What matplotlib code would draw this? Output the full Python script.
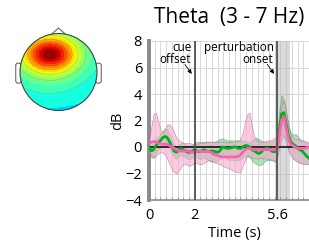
import numpy as np
import matplotlib.pyplot as plt
from matplotlib.patches import Circle, Polygon, FancyBboxPatch

plt.rcParams['font.family'] = ['Open Sans', 'DejaVu Sans']

# time axis (s), one sample every 0.1 s
time = np.round(np.arange(0, 7.01, 0.1), 1)

green_mean = [0.0, -0.3, -0.2, 0.1, 0.3, 0.5, 0.7, 0.8, 0.7, 0.4,
              0.0, -0.3, -0.4, -0.2, -0.1, -0.2, -0.3, -0.4, -0.4, -0.3,
              -0.2, -0.3, -0.35, -0.3, -0.2, -0.3, -0.35, -0.3, -0.3, -0.35,
              -0.4, -0.3, 0.0, -0.05, -0.1, -0.1, -0.05, 0.0, 0.0, -0.1,
              -0.1, 0.0, 0.1, 0.1, 0.0, -0.2, -0.3, -0.4, -0.5, -0.4,
              -0.2, -0.1, -0.1, -0.2, -0.35, -0.35, -0.1, 1.2, 2.5, 2.6,
              1.7, 0.9, 0.4, 0.2, 0.1, -0.1, -0.2, -0.3, -0.5, -0.7, -0.85]
green_lo = [-0.4, -0.8, -0.8, -0.5, -0.2, 0.0, 0.2, 0.3, 0.2, -0.1,
            -0.5, -0.8, -0.9, -0.7, -0.6, -0.7, -0.8, -0.9, -0.9, -0.8,
            -0.7, -0.8, -0.9, -0.9, -0.8, -0.9, -1.0, -1.1, -1.1, -1.1,
            -1.0, -0.9, -0.75, -0.8, -0.9, -1.0, -1.0, -1.0, -1.0, -1.0,
            -0.9, -0.8, -0.7, -0.7, -0.8, -1.0, -1.2, -1.3, -1.35, -1.35,
            -1.2, -1.0, -1.0, -1.0, -1.0, -1.1, -0.8, 0.3, 1.0, 0.9,
            0.6, -0.1, -0.5, -0.8, -1.0, -1.1, -1.2, -1.25, -1.25, -1.25, -1.3]
green_hi = [0.3, 0.1, 0.3, 0.6, 0.8, 1.0, 1.2, 1.4, 1.3, 1.0,
            0.5, 0.2, 0.0, 0.2, 0.3, 0.3, 0.2, 0.1, 0.1, 0.2,
            0.3, 0.4, 0.4, 0.4, 0.4, 0.4, 0.4, 0.4, 0.4, 0.4,
            0.5, 0.6, 0.65, 0.6, 0.5, 0.5, 0.5, 0.5, 0.5, 0.5,
            0.5, 0.5, 0.45, 0.4, 0.4, 0.5, 0.6, 0.7, 0.6, 0.5,
            0.4, 0.4, 0.4, 0.4, 0.45, 0.5, 0.7, 2.8, 3.9, 3.5,
            2.6, 1.7, 1.1, 0.9, 1.0, 0.8, 0.6, 0.5, 0.4, 0.3, 0.3]
pink_mean = [0.3, 0.35, 0.4, 0.4, 0.3, 0.25, 0.2, 0.2, 0.2, 0.1,
             0.0, -0.1, -0.2, -0.3, -0.3, -0.3, -0.3, -0.3, -0.35, -0.4,
             -0.4, -0.35, -0.3, -0.3, -0.35, -0.35, -0.35, -0.4, -0.5, -0.6,
             -0.65, -0.7, -0.75, -0.75, -0.75, -0.75, -0.75, -0.75, -0.75, -0.7,
             -0.6, -0.4, -0.2, -0.1, -0.1, -0.15, -0.2, -0.2, -0.2, -0.2,
             -0.2, -0.2, -0.2, -0.2, -0.2, -0.2, -0.1, 0.9, 2.0, 2.3,
             1.4, 0.6, 0.2, 0.1, -0.05, -0.1, -0.1, -0.1, -0.1, -0.05, 0.0]
pink_lo = [-0.4, -0.6, -0.8, -0.7, -0.5, -0.4, -0.4, -0.6, -0.9, -1.3,
           -1.7, -1.9, -2.0, -1.8, -1.5, -1.3, -1.3, -1.4, -1.4, -1.3,
           -1.2, -1.2, -1.3, -1.3, -1.2, -1.1, -1.0, -1.0, -1.1, -1.2,
           -1.25, -1.3, -1.4, -1.5, -1.55, -1.6, -1.7, -1.8, -1.9, -1.9,
           -1.9, -1.4, -1.0, -0.6, -0.7, -0.8, -0.85, -0.85, -0.85, -0.85,
           -0.85, -0.85, -0.9, -0.9, -1.0, -1.1, -0.9, 0.0, 0.7, 0.8,
           0.4, -0.3, -0.7, -0.9, -1.0, -1.1, -1.2, -1.25, -1.3, -1.3, -1.3]
pink_hi = [0.6, 1.5, 2.5, 2.6, 2.0, 1.3, 1.1, 1.4, 1.7, 1.7,
           1.5, 1.1, 0.7, 0.5, 0.4, 0.3, 0.3, 0.3, 0.3, 0.2,
           0.2, 0.2, 0.3, 0.3, 0.3, 0.35, 0.4, 0.4, 0.4, 0.4,
           0.4, 0.4, 0.4, 0.4, 0.35, 0.35, 0.4, 0.4, 0.4, 0.45,
           0.6, 1.1, 1.9, 2.5, 2.6, 1.6, 0.8, 0.5, 0.4, 0.4,
           0.4, 0.45, 0.5, 0.5, 0.6, 0.7, 0.8, 2.0, 3.2, 3.5,
           2.6, 1.5, 0.9, 0.7, 0.6, 0.6, 0.5, 0.5, 0.45, 0.4, 0.4]

x_ticks = [0, 2, 5.6]
y_ticks = [-4, -2, 0, 2, 4, 6, 8]
events = [2.0, 5.6]
event_labels = ['cue\noffset', 'perturbation\nonset']
window = (5.6, 6.15)

# topography: baseline plus frontal hot spot (x, y, amplitude, sigma x, sigma y)
topo_base = 0.355
spot_x = [-0.22, -0.25]
spot_y = [0.47, 0.2]
spot_amp = [0.5, 0.13]
spot_sx = [0.48, 0.75]
spot_sy = [0.32, 0.6]

fig = plt.figure(figsize=(3.09, 2.41), dpi=100)

# ---- time course ----
ax = fig.add_axes([149 / 309, 1 - 200 / 241, 171.5 / 309, 159 / 241])
ax.set_xlim(0, 7.5)
ax.set_ylim(-4, 8)

for v in np.arange(0.25, 7.5, 0.25):
    ax.axvline(v, color='#d8d8d8', lw=0.7, zorder=0)
for h in y_ticks:
    ax.axhline(h, color='#d8d8d8', lw=0.7, zorder=0)

ax.axvspan(*window, color='#b0b0b0', alpha=0.45, lw=0, zorder=1)

ax.fill_between(time, green_lo, green_hi, facecolor='#5fd37f', alpha=0.55,
                edgecolor='#4a8a5a', lw=0.5, zorder=2)
ax.fill_between(time, pink_lo, pink_hi, facecolor='#f7a8cf', alpha=0.6,
                edgecolor='#a07088', lw=0.5, zorder=3)
ax.axhline(0, color='black', lw=1.1, zorder=4)
ax.plot(time, green_mean, color='#00b020', lw=2.0, zorder=5)
ax.plot(time, pink_mean, color='#ff5fb0', lw=2.0, zorder=6)

for ev in events:
    ax.axvline(ev, color='#505050', lw=1.3, zorder=7)

for ev, lab in zip(events, event_labels):
    ax.text(ev - 0.15, 8.0, lab, ha='right', va='top', fontsize=8.5,
            multialignment='right', linespacing=0.9, zorder=8)
    ax.annotate('', xy=(ev - 0.06, 5.35), xytext=(ev - 0.5, 6.4),
                arrowprops=dict(arrowstyle='-|>', lw=0.6, color='black',
                                mutation_scale=6), zorder=8)

ax.set_xticks(x_ticks)
ax.set_xticklabels(['0', '2', '5.6'])
ax.set_yticks(y_ticks)
ax.set_xticks(np.arange(0.25, 7.5, 0.25), minor=True)
ax.tick_params(axis='both', which='major', length=0, labelsize=10.5)
ax.tick_params(axis='y', pad=5)
ax.tick_params(axis='x', pad=6)
ax.tick_params(axis='x', which='minor', direction='in', length=2, color='#888888')
ax.set_xlabel('Time (s)', fontsize=10.5, labelpad=2)
ax.set_ylabel('dB', fontsize=10.5, labelpad=0)

for side in ['top', 'right']:
    ax.spines[side].set_visible(False)
ax.spines['left'].set_color('#8a8a8a')
ax.spines['left'].set_linewidth(2.8)
ax.spines['bottom'].set_color('#8a8a8a')
ax.spines['bottom'].set_linewidth(1.2)

fig.text(229 / 309, 1 - 18 / 241, 'Theta  (3 - 7 Hz)', ha='center',
         va='center', fontsize=15)

# ---- scalp map ----
tp = fig.add_axes([0, 1 - 125 / 241, 115 / 309, 105 / 241])
tp.set_xlim(-58.5 / 38.5, 56.5 / 38.5)
tp.set_ylim(-53 / 38.5, 52 / 38.5)
tp.axis('off')

gx, gy = np.meshgrid(np.linspace(-1.05, 1.05, 200), np.linspace(-1.05, 1.05, 200))
field = topo_base + 0.03 * gy
for sx, sy, sa, wx, wy in zip(spot_x, spot_y, spot_amp, spot_sx, spot_sy):
    field = field + sa * np.exp(-((gx - sx) ** 2 / (2 * wx ** 2) + (gy - sy) ** 2 / (2 * wy ** 2)))
field = np.clip(field, 0, 0.99)

for side in [-1, 1]:
    ear = FancyBboxPatch((side * 1.04 - 0.07, -0.29), 0.14, 0.52,
                         boxstyle='round,pad=0,rounding_size=0.06',
                         fc='white', ec='#555555', lw=0.7, zorder=1)
    tp.add_patch(ear)
nose = Polygon([(-0.18, 0.985), (0, 1.14), (0.18, 0.985)], closed=False,
               fill=False, ec='#555555', lw=0.7, zorder=1)
tp.add_patch(nose)

clip = Circle((0, 0), 1, transform=tp.transData)
cf = tp.contourf(gx, gy, field, levels=np.linspace(0, 1, 21), cmap='jet', zorder=2)
cl = tp.contour(gx, gy, field, levels=np.linspace(0, 1, 11), colors='#666666',
                linewidths=0.3, alpha=0.5, zorder=3)
cf.set_clip_path(clip)
cl.set_clip_path(clip)
tp.add_patch(Circle((0, 0), 1, fc='none', ec='#444444', lw=0.8, zorder=4))

fig.savefig('out.png', dpi=100)
